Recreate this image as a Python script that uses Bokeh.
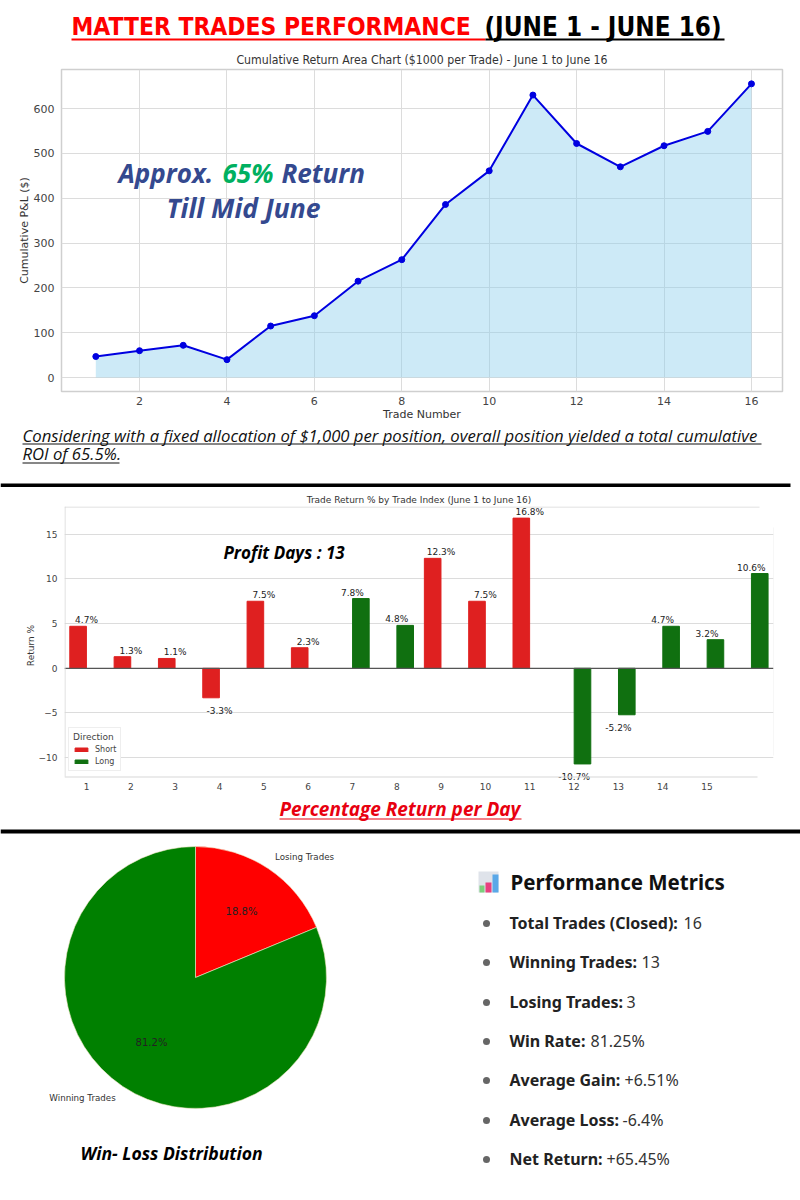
from bokeh.plotting import figure
from bokeh.layouts import column
from bokeh.models import Label, BoxAnnotation, Range1d, FixedTicker, Legend, LegendItem, Span, ColumnDataSource
from bokeh.core.properties import value
from bokeh.embed import file_html
from bokeh.resources import INLINE
import math

# ---------- data ----------
trade_no = list(range(1, 17))
cum_pnl = [47, 60, 72, 40, 115, 138, 215, 263, 386, 461, 630, 522, 470, 517, 549, 655]
ret_pct = [4.7, 1.3, 1.1, -3.3, 7.5, 2.3, 7.8, 4.8, 12.3, 7.5, 16.8, -10.7, -5.2, 4.7, 3.2, 10.6]
direction = ["Short"] * 6 + ["Long"] * 2 + ["Short"] * 3 + ["Long"] * 5
pie_labels = ["Losing Trades", "Winning Trades"]
pie_counts = [3, 13]
metrics = [("Total Trades (Closed):", "16"), ("Winning Trades:", "13"), ("Losing Trades:", "3"),
           ("Win Rate:", "81.25%"), ("Average Gain:", "+6.51%"), ("Average Loss:", "-6.4%"),
           ("Net Return:", "+65.45%")]

DJ = "DejaVu Sans"
DJC = "DejaVu Sans Condensed"
OS = "Open Sans"
GRID = "#dcdcdc"


def txt(p, x, y, s, size, color="#222222", font=DJ, style="normal", align="left", angle=0, top=0):
    p.add_layout(Label(x=x, y=y - top, x_units="canvas", y_units="canvas", text=s,
                       text_font=font, text_font_size=f"{size}px", text_font_style=style,
                       text_color=color, text_align=align, text_baseline="middle", angle=angle))


def box(p, l, r, t, b, color, top=0):
    p.add_layout(BoxAnnotation(left=l, right=r, top=t - top, bottom=b - top,
                               left_units="canvas", right_units="canvas",
                               top_units="canvas", bottom_units="canvas",
                               fill_color=color, fill_alpha=1, line_color=None, level="overlay",
                               editable=False))


def style_axes(p, size):
    for ax in (p.xaxis[0], p.yaxis[0]):
        ax.axis_line_color = None
        ax.major_tick_line_color = None
        ax.minor_tick_line_color = None
        ax.major_tick_out = 0
        ax.major_tick_in = 0
        ax.minor_tick_out = 0
        ax.minor_tick_in = 0
        ax.major_label_text_font = DJ
        ax.major_label_text_font_size = f"{size}px"
        ax.major_label_text_color = "#444444"
        ax.axis_label_text_font = DJ
        ax.axis_label_text_font_size = f"{size}px"
        ax.axis_label_text_font_style = "normal"
        ax.axis_label_text_color = "#333333"


def band(height):
    p = figure(width=800, height=height, output_backend="svg", toolbar_location=None,
               x_axis_type=None, y_axis_type=None, frame_align=False,
               x_range=Range1d(0, 800), y_range=Range1d(0, height),
               min_border=0, min_border_left=0, min_border_right=0, min_border_top=0, min_border_bottom=0)
    p.outline_line_color = None
    p.grid.visible = False
    return p


# ---------- header ----------
p0 = band(46)
txt(p0, 71, 26, "MATTER TRADES PERFORMANCE", 24.4, "#ff0000", DJC, "bold")
txt(p0, 484, 26, "(JUNE 1 - JUNE 16)", 25.8, "#000000", DJC, "bold")
box(p0, 71, 485, 40, 38, "#ff0000")
box(p0, 485, 724, 40, 38, "#000000")

# ---------- cumulative chart ----------
T1 = 46
p1 = figure(width=800, height=377, output_backend="svg", toolbar_location=None, frame_align=False,
            x_range=Range1d(0.215, 16.71), y_range=Range1d(-31, 687),
            min_border_left=61, min_border_right=18, min_border_top=23, min_border_bottom=31,
            title="Cumulative Return Area Chart ($1000 per Trade) - June 1 to June 16",
            x_axis_label="Trade Number", y_axis_label="Cumulative P&L ($)")
p1.title.align = "center"
p1.title.text_font = DJC
p1.title.text_font_size = "12.2px"
p1.title.text_font_style = "normal"
p1.title.text_color = "#333333"
p1.title.standoff = 5
p1.outline_line_color = "#cfcfcf"
p1.outline_line_width = 1.5
style_axes(p1, 11)
p1.xaxis[0].ticker = FixedTicker(ticks=list(range(2, 17, 2)))
p1.yaxis[0].ticker = FixedTicker(ticks=list(range(0, 601, 100)))
p1.xaxis[0].major_label_standoff = 5
p1.yaxis[0].major_label_standoff = 7
p1.xaxis[0].axis_label_standoff = 0
p1.yaxis[0].axis_label_standoff = 0
p1.grid.grid_line_color = GRID
p1.grid.grid_line_width = 1
p1.varea(x=trade_no, y1=[0] * 16, y2=cum_pnl, fill_color="#87ceeb", fill_alpha=0.42)
p1.line(trade_no, cum_pnl, line_color="#0000e0", line_width=2)
p1.scatter(trade_no, cum_pnl, size=6, fill_color="#0000e0", line_color="#0000e0")
txt(p1, 118, 172, "Approx.", 26, "#34498f", OS, "bold italic", top=T1)
txt(p1, 222, 172, "65%", 26, "#00b060", OS, "bold italic", top=T1)
txt(p1, 281, 172, "Return", 26, "#34498f", OS, "bold italic", top=T1)
txt(p1, 243, 207, "Till Mid June", 26.5, "#34498f", OS, "bold italic", align="center", top=T1)

# ---------- note ----------
T_n = 423
pn = band(64)
txt(pn, 22, 434.5, "Considering with a fixed allocation of $1,000 per position, overall position yielded a total cumulative", 16.7, "#111111", OS, "italic", top=T_n)
txt(pn, 22, 453, "ROI of 65.5%.", 16.7, "#111111", OS, "italic", top=T_n)
box(pn, 22, 761, 444, 443, "#111111", T_n)
box(pn, 22, 119, 463, 462, "#111111", T_n)
box(pn, 0, 790, 487, 483, "#000000", T_n)

# ---------- bar chart ----------
T2 = 487
p2 = figure(width=800, height=307, output_backend="svg", toolbar_location=None, frame_align=False,
            x_range=Range1d(0.503, 16.5), y_range=Range1d(-13.0, 18.1),
            min_border_left=64, min_border_right=27, min_border_top=19, min_border_bottom=10,
            title="Trade Return % by Trade Index (June 1 to June 16)", y_axis_label="Return %")
p2.title.align = "center"
p2.title.text_font = DJ
p2.title.text_font_size = "9px"
p2.title.text_font_style = "normal"
p2.title.text_color = "#333333"
p2.title.standoff = 3
p2.outline_line_color = None
style_axes(p2, 9)
p2.xaxis[0].ticker = FixedTicker(ticks=list(range(1, 16)))
p2.yaxis[0].ticker = FixedTicker(ticks=[-10, -5, 0, 5, 10, 15])
p2.yaxis[0].major_label_overrides = {-10: "\u221210", -5: "\u22125"}
p2.xaxis[0].major_label_standoff = -2
p2.yaxis[0].major_label_standoff = 7
p2.yaxis[0].axis_label_standoff = 0
p2.xgrid.grid_line_color = None
p2.ygrid.grid_line_color = GRID
p2.add_layout(Span(location=0, dimension="width", line_color="#555555", line_width=1.3))
colors = {"Short": "#df2020", "Long": "#107010"}
offsets = {"Short": -0.19, "Long": 0.19}
items = []
for d in ("Short", "Long"):
    xs = [t + offsets[d] for t, k in zip(trade_no, direction) if k == d]
    ys = [v for v, k in zip(ret_pct, direction) if k == d]
    r = p2.vbar(x=xs, top=ys, bottom=0, width=0.375, fill_color=colors[d], line_color=colors[d])
    items.append(LegendItem(label=d, renderers=[r]))
pos = [i for i in range(16) if ret_pct[i] >= 0]
neg = [i for i in range(16) if ret_pct[i] < 0]
p2.text(x=[trade_no[i] for i in pos], y=[ret_pct[i] for i in pos],
        text=[f"{ret_pct[i]:.1f}%" for i in pos], text_font=value(DJ), text_font_size="9px",
        text_color="#222222", text_align="center", text_baseline="bottom", y_offset=-1)
p2.text(x=[trade_no[i] for i in neg], y=[ret_pct[i] for i in neg],
        text=[f"{ret_pct[i]:.1f}%" for i in neg], text_font=value(DJ), text_font_size="9px",
        text_color="#222222", text_align="center", text_baseline="top", y_offset=8)
leg = Legend(items=items, title="Direction", location=(4, 13), title_text_font_size="9px",
             title_text_font_style="normal",
             label_text_font_size="8px", label_text_font=DJ, title_text_font=DJ,
             glyph_width=16, glyph_height=5, label_height=8, label_standoff=6, spacing=3,
             padding=4, margin=0, border_line_color="#dddddd", title_standoff=3,
             background_fill_alpha=1, label_text_color="#444444", title_text_color="#444444")
p2.add_layout(leg, "center")
box(p2, 64, 65, 776, 506, "#d8d8d8", T2)
box(p2, 64, 759, 507, 506, "#d8d8d8", T2)
box(p2, 64, 757, 777, 776, "#d8d8d8", T2)
box(p2, 773, 774, 755, 527, "#dddddd", T2)
txt(p2, 223, 552, "Profit Days : 13", 17, "#000000", OS, "bold italic", top=T2)

# ---------- bar chart caption ----------
T_c = 794
pc = band(32)
txt(pc, 279, 808, "Percentage Return per Day", 19, "#e8000f", OS, "bold italic", top=T_c)
box(pc, 279, 521, 819, 818, "#e8000f", T_c)

# ---------- bottom section ----------
T3 = 826
p3 = band(374)
p3.y_range = Range1d(-1200, -826)
total = sum(pie_counts)
start = math.pi / 2
slices = []
for n in pie_counts:
    end = start - 2 * math.pi * n / total
    slices.append((start, end))
    start = end
src = ColumnDataSource(dict(start=[s[1] for s in slices], end=[s[0] for s in slices],
                            color=["#ff0000", "#008000"]))
p3.wedge(x=195, y=-977, radius=131, start_angle="start", end_angle="end",
         fill_color="color", line_color="#f4e9c8", line_width=0.6, source=src)
box(p3, 0, 800, 833, 829, "#000000", T3)
txt(p3, 304, 856, pie_labels[0], 8.7, "#333333", DJ, align="center", top=T3)
txt(p3, 82, 1097, pie_labels[1], 8.7, "#333333", DJ, align="center", top=T3)
txt(p3, 241, 911, f"{100 * pie_counts[0] / total:.1f}%", 10, "#222222", DJ, align="center", top=T3)
txt(p3, 151, 1042, f"{int(1000 * pie_counts[1] / total) / 10:.1f}%", 10, "#222222", DJ, align="center", top=T3)
txt(p3, 80, 1152, "Win- Loss Distribution", 17.6, "#000000", OS, "bold italic", top=T3)

box(p3, 478, 498, 892, 871, "#dfe3ea", T3)
box(p3, 479, 484, 892, 885, "#7ccf7c", T3)
box(p3, 485, 491, 892, 882, "#e8407f", T3)
box(p3, 492, 498, 892, 874, "#5aa8e8", T3)
txt(p3, 510, 881, "Performance Metrics", 20.5, "#111111", "Noto Sans", "bold", top=T3)

row_y = [922, 961, 1001, 1040, 1079, 1119, 1158]
val_x = [683, 641, 626, 590, 624, 622, 606]
p3.scatter(x=[486] * 7, y=[-v - 1 for v in row_y], size=7, fill_color="#666666", line_color=None)
for (k, v), y, x in zip(metrics, row_y, val_x):
    txt(p3, 509, y, k, 16, "#222222", "Noto Sans", "bold", top=T3)
    txt(p3, x, y, v, 16, "#333333", "Noto Sans", top=T3)

page = column(p0, p1, pn, p2, pc, p3, spacing=0)
open("out.html", "w").write(file_html(page, INLINE))
